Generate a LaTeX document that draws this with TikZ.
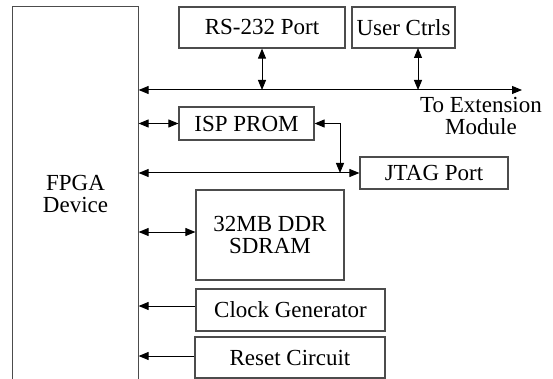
\documentclass[tikz,border=0pt]{standalone}
\usepackage{fontspec}
\setmainfont{Liberation Serif}
\usetikzlibrary{arrows.meta}
\begin{document}
\begin{tikzpicture}[x=1pt,y=-1pt]
      \tikzstyle{block} = [rectangle, minimum width=100pt, minimum height=41pt, inner sep=0pt, text centered, align=center, draw=black!70, line width=1.2pt, font=\fontsize{23}{21.5}\selectfont]
      \tikzstyle{arrow} = [line width=1pt,-{Triangle[length=10pt,width=8pt]}]
      \tikzstyle{darrow} = [line width=1pt,{Triangle[length=10pt,width=8pt]}-{Triangle[length=10pt,width=8pt]}]

      \useasboundingbox (0,0) rectangle (553,379);

      \node (fpga) [block, draw=none, minimum width=125pt, minimum height=374pt] at (75.5,194) {FPGA\\Device};
      \draw[black!70, line width=1.2pt] (fpga.south west) -- (fpga.north west) -- (fpga.north east) -- (fpga.south east);

      \node (rs) [block, minimum width=166pt] at (262,27.5) {RS-232 Port};
      \node (user) [block, minimum width=103pt] at (403.5,27.5) {User Ctrls};
      \node (isp) [block, minimum width=135pt, minimum height=33pt] at (246.5,123.5) {ISP PROM};
      \node (jtag) [block, minimum width=148pt, minimum height=32pt] at (434,173) {JTAG Port};
      \node (ddr) [block, minimum width=148pt, minimum height=90pt] at (270,235) {32MB DDR\\SDRAM};
      \node (clk) [block, minimum width=189pt, minimum height=42pt] at (290.5,310) {Clock Generator};
      \node (rst) [block, minimum width=190pt, minimum height=41pt] at (290,357.5) {Reset Circuit};
      \node (ext) [font=\fontsize{23}{21.5}\selectfont, align=center] at (481,116) {To Extension\\Module};

      % bus to extension module
      \coordinate (busl) at (fpga.east |- 0,90);
      \coordinate (busr) at (522,90);
      \draw [darrow] (busl) -- (busr);
      \draw [darrow] (rs.south) -- (rs.south |- busr);
      \coordinate (userb) at (418,48);
      \draw [darrow] (userb) -- (userb |- busr);

      % ISP PROM and JTAG
      \draw [darrow] (fpga.east |- isp.west) -- (isp.west);
      \draw [darrow] (fpga.east |- jtag.west) -- (jtag.west);
      \coordinate (turn) at (340,123.5);
      \draw [darrow] (isp.east) -- (turn) -- (turn |- jtag.west);

      % memory, clock and reset
      \draw [darrow] (fpga.east |- 0,232) -- (ddr.west |- 0,232);
      \draw [arrow] (clk.west |- 0,306) -- (fpga.east |- 0,306);
      \draw [arrow] (rst.west |- 0,356) -- (fpga.east |- 0,356);
\end{tikzpicture}
\end{document}
